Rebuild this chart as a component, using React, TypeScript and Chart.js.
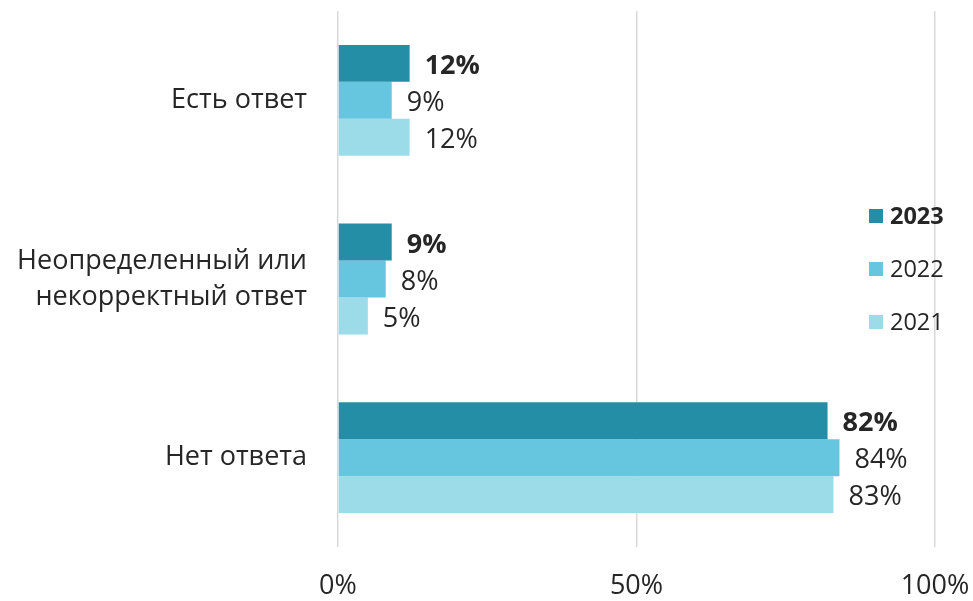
import React, { useEffect, useRef } from "react";
import { Chart, registerables } from "chart.js";

Chart.register(...registerables);

const categories: (string | string[])[] = [
  "Есть ответ",
  ["Неопределенный или", "некорректный ответ"],
  "Нет ответа",
];
const seriesNames = ["2023", "2022", "2021"];
const values2023 = [12, 9, 82];
const values2022 = [9, 8, 84];
const values2021 = [12, 5, 83];
const colors = ["#238ea5", "#67c6df", "#9cdce9"];
const xTicks = [0, 50, 100];

const FONT = "'Open Sans', 'Noto Sans', sans-serif";
const TEXT = "#262626";

const labelPlugin = {
  id: "dataLabels",
  afterDatasetsDraw(chart: any) {
    const ctx = chart.ctx;
    ctx.save();
    chart.data.datasets.forEach((ds: any, di: number) => {
      const meta = chart.getDatasetMeta(di);
      meta.data.forEach((bar: any, i: number) => {
        ctx.font = `${di === 0 ? "bold " : ""}27px ${FONT}`;
        ctx.fillStyle = TEXT;
        ctx.textAlign = "left";
        ctx.textBaseline = "middle";
        ctx.fillText(`${ds.data[i]}%`, bar.x + 15, bar.y + 3);
      });
    });
    ctx.restore();
  },
};

const legendPlugin = {
  id: "customLegend",
  afterDraw(chart: any) {
    const ctx = chart.ctx;
    ctx.save();
    const ys = [216, 269, 322];
    seriesNames.forEach((name, i) => {
      ctx.fillStyle = colors[i];
      ctx.fillRect(869, ys[i] - 7, 14, 14);
      ctx.font = `${i === 0 ? "bold " : ""}23.5px ${FONT}`;
      ctx.fillStyle = TEXT;
      ctx.textAlign = "left";
      ctx.textBaseline = "middle";
      ctx.fillText(name, 890, ys[i] + 1);
    });
    ctx.restore();
  },
};

export default function App() {
  const ref = useRef<HTMLCanvasElement>(null);
  useEffect(() => {
    if (!ref.current) return;
    const chart = new Chart(ref.current, {
      type: "bar",
      data: {
        labels: categories,
        datasets: [values2023, values2022, values2021].map((d, i) => ({
          label: seriesNames[i],
          data: d,
          backgroundColor: colors[i],
          barPercentage: 1,
          categoryPercentage: 0.62,
        })),
      },
      options: {
        indexAxis: "y",
        animation: false,
        responsive: false,
        maintainAspectRatio: false,
        layout: { padding: { top: 11, right: 38, left: 0, bottom: 0 } },
        plugins: {
          legend: { display: false },
          tooltip: { enabled: false },
        },
        scales: {
          x: {
            min: 0,
            max: 100,
            afterBuildTicks: (scale: any) => {
              scale.ticks = xTicks.map((v) => ({ value: v }));
            },
            afterFit: (scale: any) => {
              scale.height = 54;
              scale.paddingLeft = 0;
              scale.paddingRight = 0;
            },
            border: { display: false },
            grid: { color: "#d9d9d9", lineWidth: 1.5, drawTicks: false },
            ticks: {
              padding: 23,
              color: TEXT,
              font: { family: FONT, size: 27 },
              callback: (v: any) => `${v}%`,
            },
          },
          y: {
            afterFit: (scale: any) => {
              scale.width = 338;
              scale.paddingTop = 0;
              scale.paddingBottom = 0;
            },
            border: { display: false },
            grid: { display: false, drawTicks: false },
            ticks: {
              padding: 31,
              color: TEXT,
              font: { family: FONT, size: 27, lineHeight: 1.33 },
            },
          },
        },
      },
      plugins: [labelPlugin, legendPlugin],
    } as any);
    return () => chart.destroy();
  }, []);
  return (
    <div style={{ position: "absolute", left: 0, top: 0, width: 973, height: 601 }}>
      <canvas ref={ref} width={973} height={601} style={{ width: 973, height: 601 }} />
    </div>
  );
}
